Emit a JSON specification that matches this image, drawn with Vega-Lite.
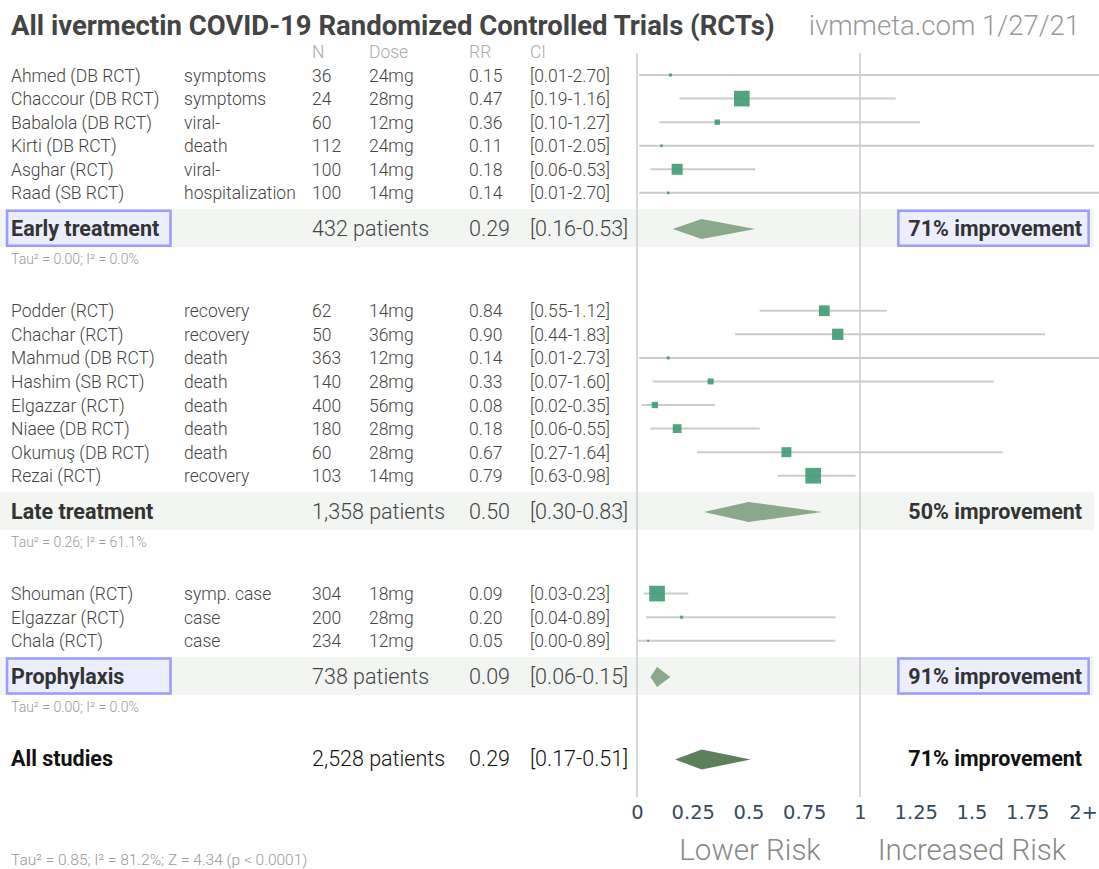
{
  "$schema": "https://vega.github.io/schema/vega-lite/v6.json",
  "width": 1099,
  "height": 800,
  "autosize": {"type": "none"},
  "padding": {"left": 0, "top": 0, "right": 0, "bottom": 69},
  "background": "#ffffff",
  "config": {"view": {"stroke": null}, "font": "Roboto", "text": {"font": "Roboto"}},
  "datasets": {
    "studies": [
      {"study": "Ahmed (DB RCT)", "outcome": "symptoms", "n": 36, "dose": "24mg", "rr": 0.15, "lo": 0.01, "hi": 2.70, "ci": "[0.01-2.70]", "w": 0.35, "row": 1},
      {"study": "Chaccour (DB RCT)", "outcome": "symptoms", "n": 24, "dose": "28mg", "rr": 0.47, "lo": 0.19, "hi": 1.16, "ci": "[0.19-1.16]", "w": 9.6, "row": 2},
      {"study": "Babalola (DB RCT)", "outcome": "viral-", "n": 60, "dose": "12mg", "rr": 0.36, "lo": 0.10, "hi": 1.27, "ci": "[0.10-1.27]", "w": 1.1, "row": 3},
      {"study": "Kirti (DB RCT)", "outcome": "death", "n": 112, "dose": "24mg", "rr": 0.11, "lo": 0.01, "hi": 2.05, "ci": "[0.01-2.05]", "w": 0.25, "row": 4},
      {"study": "Asghar (RCT)", "outcome": "viral-", "n": 100, "dose": "14mg", "rr": 0.18, "lo": 0.06, "hi": 0.53, "ci": "[0.06-0.53]", "w": 4.7, "row": 5},
      {"study": "Raad (SB RCT)", "outcome": "hospitalization", "n": 100, "dose": "14mg", "rr": 0.14, "lo": 0.01, "hi": 2.70, "ci": "[0.01-2.70]", "w": 0.25, "row": 6},
      {"study": "Podder (RCT)", "outcome": "recovery", "n": 62, "dose": "14mg", "rr": 0.84, "lo": 0.55, "hi": 1.12, "ci": "[0.55-1.12]", "w": 4.5, "row": 11},
      {"study": "Chachar (RCT)", "outcome": "recovery", "n": 50, "dose": "36mg", "rr": 0.90, "lo": 0.44, "hi": 1.83, "ci": "[0.44-1.83]", "w": 5.0, "row": 12},
      {"study": "Mahmud (DB RCT)", "outcome": "death", "n": 363, "dose": "12mg", "rr": 0.14, "lo": 0.01, "hi": 2.73, "ci": "[0.01-2.73]", "w": 0.35, "row": 13},
      {"study": "Hashim (SB RCT)", "outcome": "death", "n": 140, "dose": "28mg", "rr": 0.33, "lo": 0.07, "hi": 1.60, "ci": "[0.07-1.60]", "w": 1.4, "row": 14},
      {"study": "Elgazzar (RCT)", "outcome": "death", "n": 400, "dose": "56mg", "rr": 0.08, "lo": 0.02, "hi": 0.35, "ci": "[0.02-0.35]", "w": 1.55, "row": 15},
      {"study": "Niaee (DB RCT)", "outcome": "death", "n": 180, "dose": "28mg", "rr": 0.18, "lo": 0.06, "hi": 0.55, "ci": "[0.06-0.55]", "w": 3.0, "row": 16},
      {"study": "Okumuş (DB RCT)", "outcome": "death", "n": 60, "dose": "28mg", "rr": 0.67, "lo": 0.27, "hi": 1.64, "ci": "[0.27-1.64]", "w": 3.9, "row": 17},
      {"study": "Rezai (RCT)", "outcome": "recovery", "n": 103, "dose": "14mg", "rr": 0.79, "lo": 0.63, "hi": 0.98, "ci": "[0.63-0.98]", "w": 9.6, "row": 18},
      {"study": "Shouman (RCT)", "outcome": "symp. case", "n": 304, "dose": "18mg", "rr": 0.09, "lo": 0.03, "hi": 0.23, "ci": "[0.03-0.23]", "w": 9.6, "row": 23},
      {"study": "Elgazzar (RCT)", "outcome": "case", "n": 200, "dose": "28mg", "rr": 0.20, "lo": 0.04, "hi": 0.89, "ci": "[0.04-0.89]", "w": 0.35, "row": 24},
      {"study": "Chala (RCT)", "outcome": "case", "n": 234, "dose": "12mg", "rr": 0.05, "lo": 0.00, "hi": 0.89, "ci": "[0.00-0.89]", "w": 0.16, "row": 25}
    ],
    "summaries": [
      {"label": "Early treatment", "row": 7.5, "patients": "432 patients", "rr": 0.29, "lo": 0.16, "hi": 0.53, "ci": "[0.16-0.53]", "improvement": "71% improvement", "tau": "Tau² = 0.00; I² = 0.0%", "kind": "group"},
      {"label": "Late treatment", "row": 19.5, "patients": "1,358 patients", "rr": 0.50, "lo": 0.30, "hi": 0.83, "ci": "[0.30-0.83]", "improvement": "50% improvement", "tau": "Tau² = 0.26; I² = 61.1%", "kind": "group"},
      {"label": "Prophylaxis", "row": 26.5, "patients": "738 patients", "rr": 0.09, "lo": 0.06, "hi": 0.15, "ci": "[0.06-0.15]", "improvement": "91% improvement", "tau": "Tau² = 0.00; I² = 0.0%", "kind": "group"},
      {"label": "All studies", "row": 30, "patients": "2,528 patients", "rr": 0.29, "lo": 0.17, "hi": 0.51, "ci": "[0.17-0.51]", "improvement": "71% improvement", "tau": "Tau² = 0.85; I² = 81.2%; Z = 4.34 (p < 0.0001)", "kind": "all"}
    ]
  },
  "resolve": {"scale": {"y": "independent"}},
  "layer": [
    {
      "layer": [
        {
          "data": {"name": "summaries"},
          "transform": [{"filter": "datum.kind == 'group'"}],
          "mark": {"type": "rect", "height": 38, "color": "#f2f5f2"},
          "encoding": {
            "x": {"datum": -2.8565, "type": "quantitative",
              "scale": {"domain": [-2.8565, 2.0717], "nice": false, "zero": false, "clamp": true},
              "axis": {"values": [0, 0.25, 0.5, 0.75, 1, 1.25, 1.5, 1.75, 2], "labelExpr": "datum.value >= 2 ? '2+' : format(datum.value, '~g')", "title": null, "domain": false, "ticks": false, "tickSize": 0, "grid": false, "labelFont": "DejaVu Sans", "labelFontSize": 19.5, "labelColor": "#34495e", "labelPadding": 3}},
            "x2": {"datum": 2.05},
            "y": {"field": "row", "type": "quantitative", "scale": {"domain": [-2.182, 31.756], "reverse": true, "nice": false, "zero": false}, "axis": null}
          }
        },
        {
          "data": {"name": "summaries"},
          "transform": [{"filter": "datum.label == 'Early treatment' || datum.label == 'Prophylaxis'"}],
          "mark": {"type": "rect", "height": 35, "fill": "#eceeff", "stroke": "#9b9bff", "strokeWidth": 2.5},
          "encoding": {
            "x": {"datum": -2.825, "type": "quantitative"},
            "x2": {"datum": -2.092},
            "y": {"field": "row", "type": "quantitative", "axis": null}
          }
        },
        {
          "data": {"name": "summaries"},
          "transform": [{"filter": "datum.label == 'Early treatment' || datum.label == 'Prophylaxis'"}],
          "mark": {"type": "rect", "height": 35, "fill": "#eceeff", "stroke": "#9b9bff", "strokeWidth": 2.5},
          "encoding": {
            "x": {"datum": 1.172, "type": "quantitative"},
            "x2": {"datum": 2.025},
            "y": {"field": "row", "type": "quantitative", "axis": null}
          }
        },
        {
          "data": {"values": [{"ref": 0}, {"ref": 1}]},
          "mark": {"type": "rule", "color": "#cccccc", "strokeWidth": 1.5},
          "encoding": {
            "x": {"field": "ref", "type": "quantitative", "title": null},
            "y": {"datum": 0.07, "type": "quantitative", "axis": null},
            "y2": {"datum": 31.63}
          }
        },
        {
          "data": {"name": "studies"},
          "mark": {"type": "rule", "color": "#cccccc", "strokeWidth": 2},
          "encoding": {
            "x": {"field": "lo", "type": "quantitative", "title": null},
            "x2": {"field": "hi"},
            "y": {"field": "row", "type": "quantitative", "axis": null}
          }
        },
        {
          "data": {"name": "studies"},
          "mark": {"type": "point", "shape": "square", "filled": true, "color": "#3e9a73", "opacity": 0.9, "strokeWidth": 0},
          "encoding": {
            "x": {"field": "rr", "type": "quantitative", "title": null},
            "y": {"field": "row", "type": "quantitative", "axis": null},
            "size": {"field": "w", "type": "quantitative", "scale": {"domain": [0, 10], "range": [0, 256], "zero": true}, "legend": null}
          }
        },
        {
          "data": {"name": "studies"},
          "mark": {"type": "text", "align": "left", "baseline": "middle", "fontSize": 17.5, "fontWeight": 300, "color": "#444444", "dy": 1.5},
          "encoding": {
            "x": {"datum": -2.807, "type": "quantitative"},
            "y": {"field": "row", "type": "quantitative", "axis": null},
            "text": {"field": "study"}
          }
        },
        {
          "data": {"name": "studies"},
          "mark": {"type": "text", "align": "left", "baseline": "middle", "fontSize": 17.5, "fontWeight": 300, "color": "#444444", "dy": 1.5},
          "encoding": {
            "x": {"datum": -2.031, "type": "quantitative"},
            "y": {"field": "row", "type": "quantitative", "axis": null},
            "text": {"field": "outcome"}
          }
        },
        {
          "data": {"name": "studies"},
          "mark": {"type": "text", "align": "left", "baseline": "middle", "fontSize": 17.5, "fontWeight": 300, "color": "#444444", "dy": 1.5},
          "encoding": {
            "x": {"datum": -1.457, "type": "quantitative"},
            "y": {"field": "row", "type": "quantitative", "axis": null},
            "text": {"field": "n"}
          }
        },
        {
          "data": {"name": "studies"},
          "mark": {"type": "text", "align": "left", "baseline": "middle", "fontSize": 17.5, "fontWeight": 300, "color": "#444444", "dy": 1.5},
          "encoding": {
            "x": {"datum": -1.202, "type": "quantitative"},
            "y": {"field": "row", "type": "quantitative", "axis": null},
            "text": {"field": "dose"}
          }
        },
        {
          "data": {"name": "studies"},
          "mark": {"type": "text", "align": "left", "baseline": "middle", "fontSize": 17.5, "fontWeight": 300, "color": "#444444", "dy": 1.5},
          "encoding": {
            "x": {"datum": -0.753, "type": "quantitative"},
            "y": {"field": "row", "type": "quantitative", "axis": null},
            "text": {"field": "rr", "format": ".2f"}
          }
        },
        {
          "data": {"name": "studies"},
          "mark": {"type": "text", "align": "left", "baseline": "middle", "fontSize": 17.5, "fontWeight": 300, "color": "#444444", "dy": 1.5},
          "encoding": {
            "x": {"datum": -0.480, "type": "quantitative"},
            "y": {"field": "row", "type": "quantitative", "axis": null},
            "text": {"field": "ci"}
          }
        },
        {
          "data": {"values": [{"h": "N"}]},
          "mark": {"type": "text", "align": "left", "baseline": "middle", "fontSize": 17.5, "fontWeight": 300, "color": "#aaaaaa", "dy": 2},
          "encoding": {"x": {"datum": -1.457, "type": "quantitative"}, "y": {"datum": 0, "type": "quantitative", "axis": null}, "text": {"field": "h"}}
        },
        {
          "data": {"values": [{"h": "Dose"}]},
          "mark": {"type": "text", "align": "left", "baseline": "middle", "fontSize": 17.5, "fontWeight": 300, "color": "#aaaaaa", "dy": 2},
          "encoding": {"x": {"datum": -1.202, "type": "quantitative"}, "y": {"datum": 0, "type": "quantitative", "axis": null}, "text": {"field": "h"}}
        },
        {
          "data": {"values": [{"h": "RR"}]},
          "mark": {"type": "text", "align": "left", "baseline": "middle", "fontSize": 17.5, "fontWeight": 300, "color": "#aaaaaa", "dy": 2},
          "encoding": {"x": {"datum": -0.753, "type": "quantitative"}, "y": {"datum": 0, "type": "quantitative", "axis": null}, "text": {"field": "h"}}
        },
        {
          "data": {"values": [{"h": "CI"}]},
          "mark": {"type": "text", "align": "left", "baseline": "middle", "fontSize": 17.5, "fontWeight": 300, "color": "#aaaaaa", "dy": 2},
          "encoding": {"x": {"datum": -0.480, "type": "quantitative"}, "y": {"datum": 0, "type": "quantitative", "axis": null}, "text": {"field": "h"}}
        },
        {
          "data": {"values": [{"t": "All ivermectin COVID-19 Randomized Controlled Trials (RCTs)"}]},
          "mark": {"type": "text", "align": "left", "baseline": "middle", "fontSize": 27.5, "fontWeight": "bold", "color": "#444444", "dy": 1.5},
          "encoding": {"x": {"datum": -2.807, "type": "quantitative"}, "y": {"datum": -1.121, "type": "quantitative", "axis": null}, "text": {"field": "t"}}
        },
        {
          "data": {"values": [{"t": "ivmmeta.com 1/27/21"}]},
          "mark": {"type": "text", "align": "right", "baseline": "middle", "fontSize": 27.5, "fontWeight": 300, "color": "#999999", "dy": 1.5},
          "encoding": {"x": {"datum": 1.987, "type": "quantitative"}, "y": {"datum": -1.121, "type": "quantitative", "axis": null}, "text": {"field": "t"}}
        },
        {
          "data": {"name": "summaries"},
          "mark": {"type": "text", "align": "left", "baseline": "middle", "fontSize": 21.5, "fontWeight": "bold", "dy": 1.5},
          "encoding": {
            "x": {"datum": -2.807, "type": "quantitative"},
            "y": {"field": "row", "type": "quantitative", "axis": null},
            "text": {"field": "label"},
            "color": {"condition": {"test": "datum.kind == 'all'", "value": "#111111"}, "value": "#333333"}
          }
        },
        {
          "data": {"name": "summaries"},
          "mark": {"type": "text", "align": "left", "baseline": "middle", "fontSize": 21.5, "fontWeight": 300, "dy": 1.5},
          "encoding": {
            "x": {"datum": -1.457, "type": "quantitative"},
            "y": {"field": "row", "type": "quantitative", "axis": null},
            "text": {"field": "patients"},
            "color": {"condition": {"test": "datum.kind == 'all'", "value": "#111111"}, "value": "#444444"}
          }
        },
        {
          "data": {"name": "summaries"},
          "mark": {"type": "text", "align": "left", "baseline": "middle", "fontSize": 21.5, "fontWeight": 300, "dy": 1.5},
          "encoding": {
            "x": {"datum": -0.753, "type": "quantitative"},
            "y": {"field": "row", "type": "quantitative", "axis": null},
            "text": {"field": "rr", "format": ".2f"},
            "color": {"condition": {"test": "datum.kind == 'all'", "value": "#111111"}, "value": "#444444"}
          }
        },
        {
          "data": {"name": "summaries"},
          "mark": {"type": "text", "align": "left", "baseline": "middle", "fontSize": 21.5, "fontWeight": 300, "dy": 1.5},
          "encoding": {
            "x": {"datum": -0.480, "type": "quantitative"},
            "y": {"field": "row", "type": "quantitative", "axis": null},
            "text": {"field": "ci"},
            "color": {"condition": {"test": "datum.kind == 'all'", "value": "#111111"}, "value": "#444444"}
          }
        },
        {
          "data": {"name": "summaries"},
          "mark": {"type": "text", "align": "right", "baseline": "middle", "fontSize": 21.5, "fontWeight": "bold", "dy": 1.5},
          "encoding": {
            "x": {"datum": 1.996, "type": "quantitative"},
            "y": {"field": "row", "type": "quantitative", "axis": null},
            "text": {"field": "improvement"},
            "color": {"condition": {"test": "datum.kind == 'all'", "value": "#111111"}, "value": "#333333"}
          }
        },
        {
          "data": {"name": "summaries"},
          "transform": [{"filter": "datum.kind == 'group'"}],
          "mark": {"type": "text", "align": "left", "baseline": "middle", "fontSize": 14, "fontWeight": 300, "color": "#999999", "yOffset": 32},
          "encoding": {
            "x": {"datum": -2.807, "type": "quantitative"},
            "y": {"field": "row", "type": "quantitative", "axis": null},
            "text": {"field": "tau"}
          }
        },
        {
          "data": {"name": "summaries"},
          "transform": [{"filter": "datum.kind == 'all'"}],
          "mark": {"type": "text", "align": "left", "baseline": "middle", "fontSize": 15.5, "fontWeight": 300, "color": "#999999"},
          "encoding": {
            "x": {"datum": -2.807, "type": "quantitative"},
            "y": {"datum": 34.3, "type": "quantitative", "axis": null},
            "text": {"field": "tau"}
          }
        },
        {
          "data": {"values": [{"t": "Lower Risk"}]},
          "mark": {"type": "text", "align": "center", "baseline": "middle", "fontSize": 29.5, "fontWeight": 300, "color": "#888888"},
          "encoding": {"x": {"datum": 0.507, "type": "quantitative"}, "y": {"datum": 33.92, "type": "quantitative", "axis": null}, "text": {"field": "t"}}
        },
        {
          "data": {"values": [{"t": "Increased Risk"}]},
          "mark": {"type": "text", "align": "center", "baseline": "middle", "fontSize": 29.5, "fontWeight": 300, "color": "#888888"},
          "encoding": {"x": {"datum": 1.502, "type": "quantitative"}, "y": {"datum": 33.92, "type": "quantitative", "axis": null}, "text": {"field": "t"}}
        }
      ]
    },
    {
      "data": {"name": "summaries"},
      "transform": [
        {"fold": ["rr", "lo", "rr", "hi"], "as": ["key", "value"]},
        {"window": [{"op": "row_number", "as": "idx"}], "groupby": ["label"]}
      ],
      "mark": {"type": "line", "filled": true, "strokeWidth": 0},
      "encoding": {
        "x": {"field": "value", "type": "quantitative", "title": null},
        "y": {"field": "row", "type": "ordinal", "axis": null,
          "scale": {"type": "point", "padding": 0.44,
            "domain": [-2, -1.5, -1, -0.5, 0, 0.5, 1, 1.5, 2, 2.5, 3, 3.5, 4, 4.5, 5, 5.5, 6, 6.5, 7, 7.5, 8, 8.5, 9, 9.5, 10, 10.5, 11, 11.5, 12, 12.5, 13, 13.5, 14, 14.5, 15, 15.5, 16, 16.5, 17, 17.5, 18, 18.5, 19, 19.5, 20, 20.5, 21, 21.5, 22, 22.5, 23, 23.5, 24, 24.5, 25, 25.5, 26, 26.5, 27, 27.5, 28, 28.5, 29, 29.5, 30, 30.5, 31, 31.5]}},
        "yOffset": {"field": "idx", "type": "quantitative", "scale": {"domain": [1, 2, 3, 4], "range": [-10, 0, 10, 0], "zero": false, "nice": false}},
        "order": {"field": "idx", "type": "quantitative"},
        "color": {"field": "kind", "type": "nominal", "scale": {"domain": ["group", "all"], "range": ["#8aa88a", "#5b805a"]}, "legend": null},
        "detail": {"field": "label"}
      }
    }
  ]
}
